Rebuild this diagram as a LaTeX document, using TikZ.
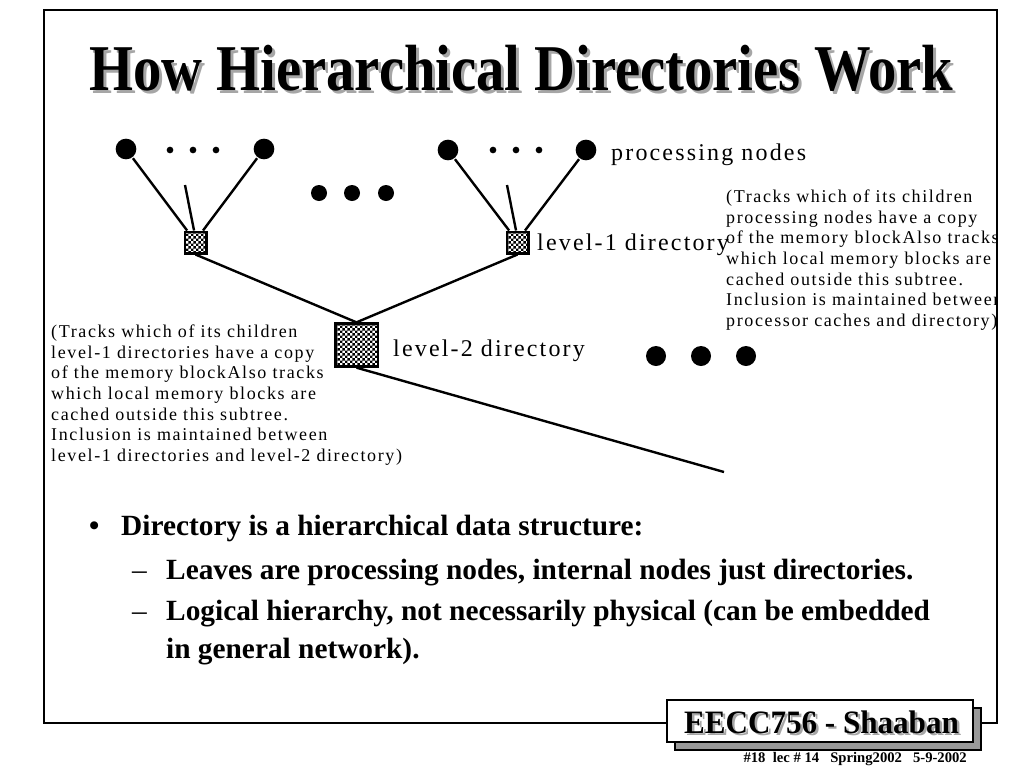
\documentclass[tikz,border=0pt]{standalone}
\usepackage{fontspec}
\setmainfont{Liberation Serif}
\newfontfamily\notefont{Liberation Serif}[LetterSpace=9]
\usetikzlibrary{patterns}

\pgfdeclarepatternformonly{finecheck}{\pgfpointorigin}{\pgfqpoint{4pt}{4pt}}{\pgfqpoint{4pt}{4pt}}
{
  \pgfpathrectangle{\pgfpointorigin}{\pgfqpoint{2pt}{2pt}}
  \pgfpathrectangle{\pgfqpoint{2pt}{2pt}}{\pgfqpoint{2pt}{2pt}}
  \pgfusepath{fill}
}

\tikzset{
  pnode/.style={circle,fill=black,inner sep=0pt,minimum size=15.5pt},
  tinydot/.style={circle,fill=black,inner sep=0pt,minimum size=5pt},
  bigdot/.style={circle,fill=black,inner sep=0pt,minimum size=#1},
  dirbox/.style={draw,line width=2pt,pattern=finecheck,inner sep=0pt,minimum size=#1},
  lbl/.style={font=\notefont\fontsize{18pt}{21pt}\selectfont,inner sep=0pt,anchor=base west},
  note/.style={font=\notefont\fontsize{13.5pt}{15.4pt}\selectfont,align=left,inner sep=0pt,anchor=north west},
  bul/.style={font=\bfseries\fontsize{22pt}{26pt}\selectfont,inner sep=0pt,anchor=base west},
  shadowtext/.style={text=black!35}
}

\begin{document}
\begin{tikzpicture}[x=0.75pt,y=-0.75pt,line width=1.8pt]
\useasboundingbox (0,0) rectangle (1024,768);
% slide frame
\draw[line width=2.2pt] (44,10) rectangle (997,723);

% title
\node[shadowtext,inner sep=0pt,anchor=base west] (titleshadow) at (91,93)
  {\resizebox{648pt}{34pt}{\bfseries How Hierarchical Directories Work}};
\node[inner sep=0pt,anchor=base west] (title) at (88,90)
  {\resizebox{648pt}{34pt}{\bfseries How Hierarchical Directories Work}};

% processing nodes
\node[pnode] (p1) at (126,149) {};
\node[pnode] (p2) at (264,149) {};
\node[pnode] (p3) at (448,150) {};
\node[pnode] (p4) at (586,150) {};
\foreach \x [count=\i] in {170,193,216} \node[tinydot] (da\i) at (\x,150) {};
\foreach \x [count=\i] in {493,516,539} \node[tinydot] (db\i) at (\x,150) {};
\foreach \x [count=\i] in {319,352,386} \node[bigdot=12pt] (dc\i) at (\x,193) {};
\foreach \x [count=\i] in {656,701,746} \node[bigdot=15pt] (dd\i) at (\x,356) {};

% directories
\node[dirbox=16pt] (d1) at (195.5,242.5) {};
\node[dirbox=16pt] (d2) at (517.5,242.5) {};
\node[dirbox=32pt] (l2) at (356.5,345) {};

% connectors
\coordinate (m1) at (185,185);
\coordinate (m2) at (507,185);
\coordinate (tail) at (724,472);
\draw (p1) -- (d1.125);
\draw (m1) -- (d1.97);
\draw (p2) -- (d1.58);
\draw (p3) -- (d2.125);
\draw (m2) -- (d2.97);
\draw (p4) -- (d2.58);
\draw (d1.south) -- (l2.north);
\draw (d2.south) -- (l2.north);
\draw (l2.south) -- (tail);

% labels
\node[lbl] (lblp) at (610,160) {processing nodes};
\node[lbl] (lbl1) at (536,250) {level-1 directory};
\node[lbl] (lbl2) at (392,356) {level-2 directory};

\begin{scope}
\clip (44,10) rectangle (996,723);
\node[note] (noteright) at (725,189) {(Tracks which of its children\\processing nodes have a copy\\of the memory blockAlso tracks\\which local memory blocks are\\cached outside this subtree.\\Inclusion is maintained between\\processor caches and directory)};
\end{scope}
\node[note] (noteleft) at (50,324) {(Tracks which of its children\\level-1 directories have a copy\\of the memory blockAlso tracks\\which local memory blocks are\\cached outside this subtree.\\Inclusion is maintained between\\level-1 directories and level-2 directory)};

% bullets
\node[bul,font=\bfseries\fontsize{22pt}{26pt}\selectfont] (b0) at (88,535) {\textbullet};
\node[bul] (b1) at (120,535) {Directory is a hierarchical data structure:};
\node[bul,font=\fontsize{22pt}{26pt}\selectfont] (b2dash) at (131,579) {–};
\node[bul] (b2) at (165,579) {Leaves are processing nodes, internal nodes just directories.};
\node[bul,font=\fontsize{22pt}{26pt}\selectfont] (b3dash) at (131,620) {–};
\node[bul] (b3) at (165,620) {Logical hierarchy, not necessarily physical (can be embedded};
\node[bul] (b4) at (165,658) {in general network).};

% footer
\filldraw[fill=black!40,line width=0.8pt] (675,708) rectangle (981,750);
\filldraw[fill=white,line width=1pt] (667,700) rectangle (973,742);
\node[shadowtext,inner sep=0pt,anchor=base west] (fshadow) at (685.5,735.5)
  {\resizebox{206pt}{17pt}{\bfseries EECC756 - Shaaban}};
\node[inner sep=0pt,anchor=base west] (ftitle) at (683,733)
  {\resizebox{206pt}{17pt}{\bfseries EECC756 - Shaaban}};
\node[inner sep=0pt,anchor=base east,font=\bfseries\fontsize{11pt}{12pt}\selectfont] (foot) at (968,762)
  {\#18\ \ lec \# 14\ \ \ Spring2002\ \ \ 5-9-2002};
\end{tikzpicture}
\end{document}
